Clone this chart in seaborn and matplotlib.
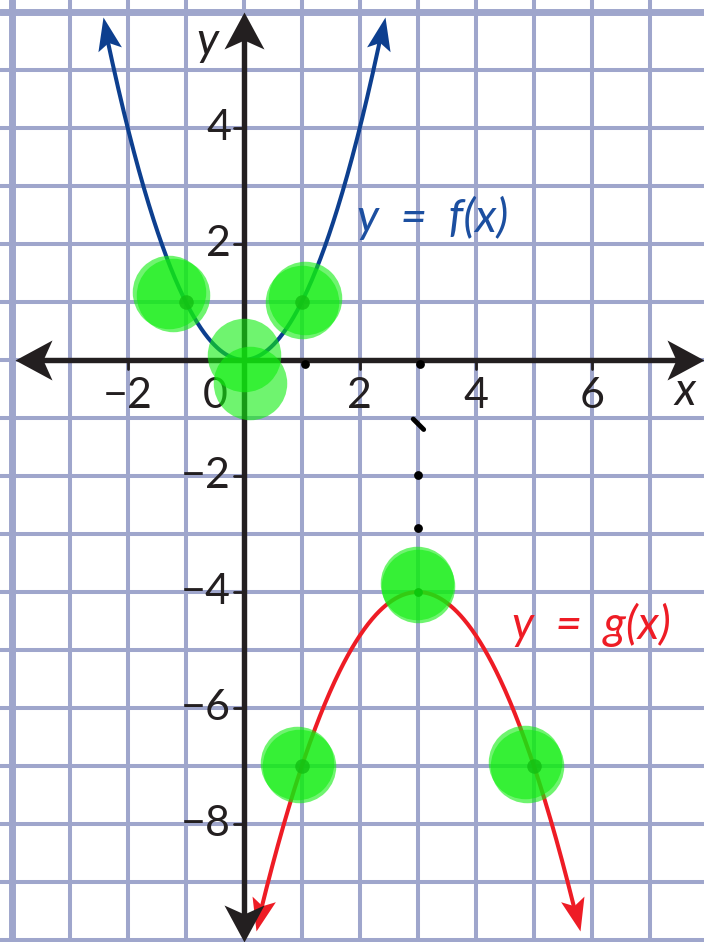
import numpy as np
import pandas as pd
import seaborn as sns
import matplotlib.pyplot as plt
from matplotlib.path import Path

# marked points of the two parabolas
f_pts_x = [-1, 0, 1]
f_pts_y = [1, 0, 1]
g_pts_x = [1, 3, 5]
g_pts_y = [-7, -4, -7]

# drawn domain of each curve (arrow tips)
f_domain = [-2.43, 2.43]
g_domain = [0.21, 5.79]

# green highlighter blobs (centres)
blob_x = [-1.28, -1.22, 1.05, 1.0, 0.0, 0.1, 2.98, 3.0, 0.91, 0.95, 4.84, 4.88]
blob_y = [1.17, 1.12, 1.07, 1.0, 0.09, -0.4, -3.84, -3.9, -6.95, -7.0, -6.93, -7.0]

# small black dots of the hand-drawn guide line
guide_x = [1.05, 3.03, 3.0, 3.0, 3.0]
guide_y = [-0.08, -0.08, -1.98, -2.9, -4.0]

x_ticks = [-2, 2, 4, 6]
y_ticks = [4, 2, -2, -4, -6, -8]

GRID = "#9fa6cc"
AXIS = "#231f20"
BLUE = "#0d3f8f"
RED = "#ee1c25"
GREEN = "#10ee10"

sns.set_style("white")
plt.rcParams["font.family"] = ["Lato", "DejaVu Sans"]

fig = plt.figure(figsize=(7.04, 9.42), dpi=100)
ax = fig.add_axes([0, 0, 1, 1])
ax.set_xlim(-4.2, 7.93)
ax.set_ylim(-10.03, 6.2)
ax.axis("off")
UNIT = 58.04  # px per data unit, same on both axes


def stealth(x, y, ang, length, half, notch, color, z):
    # arrowhead with a notched back, tip at (x, y), size in pixels
    a = np.deg2rad(ang)
    pts = np.array([[0, 0], [-length, half], [-length + notch, 0], [-length, -half], [0, 0]], float)
    rot = np.array([[np.cos(a), -np.sin(a)], [np.sin(a), np.cos(a)]])
    pts = pts @ rot.T
    rescale = np.abs(pts).max()
    marker = Path(pts, [Path.MOVETO, Path.LINETO, Path.LINETO, Path.LINETO, Path.CLOSEPOLY])
    ax.plot([x], [y], marker=marker, ms=1.44 * rescale, color=color, mew=0, ls="none", zorder=z)


# grid
for gx in range(-4, 8):
    ax.axvline(gx, color=GRID, lw=5 if gx == -4 else 2.9, zorder=0)
for gy in range(-10, 7):
    ax.axhline(gy, color=GRID, lw=5 if gy == 6 else 2.9, zorder=0)


def curve(px, py, dom):
    coef = np.polyfit(px, py, 2)
    xs = np.linspace(dom[0], dom[1], 400)
    return pd.DataFrame({"x": xs, "y": np.polyval(coef, xs)})


for pts_x, pts_y, dom, col in [(f_pts_x, f_pts_y, f_domain, BLUE), (g_pts_x, g_pts_y, g_domain, RED)]:
    df = curve(pts_x, pts_y, dom)
    ends = []
    for i in [0, -1]:
        tip = df.iloc[i]
        d = np.hypot(df.x - tip.x, df.y - tip.y) * UNIT
        ends.append(d)
        prev = df[d > 6].iloc[0 if i == 0 else -1]
        ang = np.degrees(np.arctan2(tip.y - prev.y, tip.x - prev.x))
        stealth(tip.x, tip.y, ang, 33, 12, 7, col, 3)
    keep = (ends[0] > 20) & (ends[1] > 20)
    sns.lineplot(data=df[keep], x="x", y="y", color=col, lw=2.9, sort=False, ax=ax, zorder=3)

# axes with arrows
ax.plot([-3.5, 7.5], [0, 0], color=AXIS, lw=3.9, solid_capstyle="butt", zorder=4)
ax.plot([0, 0], [-9.6, 5.6], color=AXIS, lw=3.9, solid_capstyle="butt", zorder=4)
stealth(7.93, 0, 0, 37, 20, 9, AXIS, 4)
stealth(-3.94, 0, 180, 37, 20, 9, AXIS, 4)
stealth(0, 6.0, 90, 37, 20, 9, AXIS, 4)
stealth(0, -10.03, -90, 37, 20, 9, AXIS, 4)

for t in x_ticks:
    ax.plot([t, t], [0, -0.16], color=AXIS, lw=2, zorder=4)
    ax.text(t, -0.62, f"{t}".replace("-", "\u2212"), ha="center", va="center", fontsize=31, color=AXIS)
ax.text(-0.5, -0.62, "0", ha="center", va="center", fontsize=31, color=AXIS)
for t in y_ticks:
    ax.plot([-0.16, 0], [t, t], color=AXIS, lw=2, zorder=4)
    ax.text(-0.22, t, f"{t}".replace("-", "\u2212"), ha="right", va="center", fontsize=31, color=AXIS)

ax.text(-0.62, 5.48, "y", ha="center", va="center", fontsize=33, style="italic", color=AXIS)
ax.text(7.6, -0.55, "x", ha="center", va="center", fontsize=33, style="italic", color=AXIS)

ax.text(1.95, 2.45, "y  =  f(x)", ha="left", va="center", fontsize=33, style="italic", color="#1c4fa0")
ax.text(4.62, -4.57, "y  =  g(x)", ha="left", va="center", fontsize=33, style="italic", color=RED)

# guide line
ax.plot([2.92, 3.1], [-1.02, -1.2], color="black", lw=3.5, solid_capstyle="round", zorder=5)
sns.scatterplot(x=guide_x, y=guide_y, color="black", s=40, linewidth=0, ax=ax, zorder=5)

# highlighter blobs and marked points
sns.scatterplot(x=blob_x, y=blob_y, color=GREEN, s=2800, alpha=0.6, linewidth=0, ax=ax, zorder=6)
sns.scatterplot(x=[-1, 1, 1, 5], y=[1, 1, -7, -7], color="#13c013", s=110, alpha=0.8, linewidth=0, ax=ax, zorder=6)

fig.savefig("out.png", dpi=100)
